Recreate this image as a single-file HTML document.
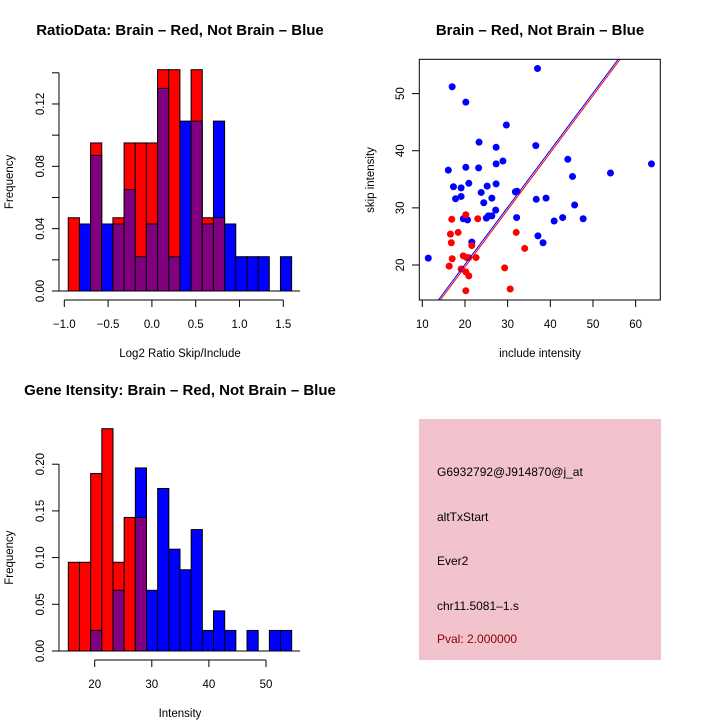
<!DOCTYPE html>
<html><head><meta charset="utf-8"><style>
body{margin:0;background:#fff;}
svg{display:block;font-family:"Liberation Sans",sans-serif;}
</style></head><body>
<svg id="c" width="720" height="720" xmlns="http://www.w3.org/2000/svg"></svg>
<script>
// Panel 1: ratio histogram
const ratioRed = [0.047,0,0.095,0,0.047,0.095,0.095,0.095,0.142,0.142,0,0.142,0.047,0.047,0,0,0,0,0,0];
const ratioBlue = [0,0.043,0.087,0.043,0.043,0.065,0.022,0.043,0.130,0.022,0.109,0.109,0.043,0.109,0.043,0.022,0.022,0.022,0,0.022];
const ratioStart = -0.955, ratioWidth = 0.1275;
const ratioXTicks = [-1.0,-0.5,0.0,0.5,1.0,1.5];
const ratioYTicks = [0,0.02,0.04,0.06,0.08,0.10,0.12,0.14];
const ratioYLabels = ["0.00","","0.04","","0.08","","0.12",""];
// Panel 3: intensity histogram
const intRed = [0.095,0.095,0.190,0.238,0.095,0.143,0.143,0,0,0,0,0,0,0,0,0,0,0,0,0];
const intBlue = [0,0,0.022,0,0.065,0,0.196,0.065,0.174,0.109,0.087,0.130,0.022,0.043,0.022,0,0.022,0,0.022,0.022];
const intStart = 15.38, intWidth = 1.956;
const intXTicks = [20,30,40,50];
const intYTicks = [0,0.05,0.10,0.15,0.20];
const intYLabels = ["0.00","0.05","0.10","0.15","0.20"];
// Panel 2: scatter
const blueX = [11.4,17.0,20.2,37.0,29.7,23.3,27.3,36.6,28.9,27.3,16.1,20.2,23.2,44.1,45.2,54.1,63.7,17.3,19.1,20.9,25.2,27.3,23.8,31.8,32.2,17.8,19.1,26.3,24.4,36.7,39.0,45.7,27.2,19.6,20.6,25.0,25.5,26.3,32.1,42.9,40.9,47.7,37.1,38.3,21.6];
const blueY = [21.2,51.2,48.5,54.4,44.5,41.5,40.6,40.9,38.2,37.7,36.6,37.1,37.0,38.5,35.5,36.1,37.7,33.7,33.5,34.3,33.8,34.2,32.7,32.8,32.9,31.6,32.0,31.7,30.9,31.5,31.7,30.5,29.6,28.1,27.9,28.2,28.6,28.6,28.3,28.3,27.7,28.1,25.1,23.9,24.0];
const redX = [20.2,16.9,23.0,16.6,18.4,32.0,16.8,21.6,34.0,17.0,19.6,20.4,20.9,22.6,16.3,19.1,20.2,20.9,29.3,20.2,30.6];
const redY = [28.8,28.0,28.1,25.4,25.7,25.7,23.9,23.4,22.9,21.1,21.6,21.3,21.3,21.3,19.8,19.3,18.8,18.1,19.5,15.5,15.8];
const fitBlue = [0.1,1.0], fitRed = [-0.35,1.0]; // intercept, slope
const scXTicks = [10,20,30,40,50,60];
const scYTicks = [20,30,40,50];

const svg = document.getElementById('c');
const NS = 'http://www.w3.org/2000/svg';
function mk(tag, attrs, parent){const e=document.createElementNS(NS,tag);for(const k in attrs)e.setAttribute(k,attrs[k]);(parent||svg).appendChild(e);return e;}
function txt(s,x,y,o,parent){const t=mk('text',Object.assign({x:x,y:y,'text-anchor':'middle','font-size':12},o||{}),parent);t.textContent=s;return t;}

function hist(name, red, blue, start, width, xt, yt, ylabs, xScale, yScale, base, axisY, ymaxTick, xlab, title, titleY, xAxisFrom, xAxisTo){
  const g = mk('g',{});
  
  
  const tt = txt(title,180,titleY,{'font-size':15,'font-weight':'bold'},g);
  
  
  for(let i=0;i<red.length;i++){
    const x0=xScale(start+i*width), x1=xScale(start+(i+1)*width);
    const r=red[i], b=blue[i], mx=Math.max(r,b), mn=Math.min(r,b);
    if(mx<=0) continue;
    const top = mk('rect',{x:x0,y:yScale(mx),width:x1-x0,height:base-yScale(mx),fill:r>=b?'#ff0000':'#0000ff',stroke:'#000','stroke-width':1},g);
    
    
    if(mn>0){
      const p = mk('rect',{x:x0,y:yScale(mn),width:x1-x0,height:base-yScale(mn),fill:'#800080',stroke:'#000','stroke-width':1},g);
      
      
    }
  }
  mk('line',{x1:52,y1:base,x2:300,y2:base,stroke:'#000'},g);
  const ya = mk('g',{},g);
  
  
  mk('line',{x1:59,y1:yScale(yt[0]),x2:59,y2:yScale(yt[yt.length-1]),stroke:'#000'},ya);
  yt.forEach((v,i)=>{const y=yScale(v);mk('line',{x1:52,y1:y,x2:59,y2:y,stroke:'#000'},ya);
    if(ylabs[i]) txt(ylabs[i],0,0,{transform:`translate(44,${y}) rotate(-90)`,'font-size':11.5},ya);});
  const xa = mk('g',{},g);
  
  
  mk('line',{x1:xScale(xAxisFrom),y1:axisY,x2:xScale(xAxisTo),y2:axisY,stroke:'#000'},xa);
  xt.forEach(v=>{const x=xScale(v);mk('line',{x1:x,y1:axisY,x2:x,y2:axisY+7,stroke:'#000'},xa);
    txt(String(Number.isInteger(v)&&Math.abs(v)>=10?v:v.toFixed(1)).replace('-','\u2212'),x,axisY+28,{'font-size':11.5},xa);});
  const xl = txt(xlab,180,axisY+57,{'font-size':11.5},g);
  
  
  const yl = txt('Frequency',0,0,{transform:`translate(13,${(base+yScale(ymaxTick))/2}) rotate(-90)`,'font-size':11.5},g);
  
  
}
hist('ratio-histogram', ratioRed, ratioBlue, ratioStart, ratioWidth, ratioXTicks, ratioYTicks, ratioYLabels,
  v=>64.3+(v+1)*87.6, v=>291-v/0.02*31.17, 291, 300, 0.14, 'Log2 Ratio Skip/Include',
  'RatioData: Brain \u2013 Red, Not Brain \u2013 Blue', 35, -1.0, 1.5);
hist('intensity-histogram', intRed, intBlue, intStart, intWidth, intXTicks, intYTicks, intYLabels,
  v=>94.7+(v-20)*5.71, v=>651-v/0.05*46.7, 651, 660, 0.20, 'Intensity',
  'Gene Itensity: Brain \u2013 Red, Not Brain \u2013 Blue', 395, 20, 50);

const sx = v=>422.3+(v-10)*4.267, sy = v=>265-(v-20)*5.713;
const sg = mk('g',{});


const st = txt('Brain \u2013 Red, Not Brain \u2013 Blue',540,35,{'font-size':15,'font-weight':'bold'},sg);


mk('defs',{},sg).innerHTML='<clipPath id="clp"><rect x="419.3" y="59.3" width="241" height="240.7"/></clipPath>';
const cg = mk('g',{'clip-path':'url(#clp)'},sg);
blueX.forEach((x,i)=>{const c=mk('circle',{cx:sx(x),cy:sy(blueY[i]),r:3.5,fill:'#0000ff'},cg);
  
  });
redX.forEach((x,i)=>{const c=mk('circle',{cx:sx(x),cy:sy(redY[i]),r:3.5,fill:'#ff0000'},cg);
  
  });
[[fitBlue,'#0000ff','blue-fit-line'],[fitRed,'#ff0000','red-fit-line']].forEach(([f,col,n])=>{
  const l=mk('line',{x1:sx(5),y1:sy(f[0]+f[1]*5),x2:sx(70),y2:sy(f[0]+f[1]*70),stroke:col,'stroke-width':1},cg);
  
  });
mk('rect',{x:419.3,y:59.3,width:241,height:240.7,fill:'none',stroke:'#000'},sg);
scXTicks.forEach(v=>{const x=sx(v);mk('line',{x1:x,y1:300,x2:x,y2:307,stroke:'#000'},sg);txt(String(v),x,328,{'font-size':11.5},sg);});
scYTicks.forEach(v=>{const y=sy(v);mk('line',{x1:412,y1:y,x2:419.3,y2:y,stroke:'#000'},sg);txt(String(v),0,0,{transform:`translate(404,${y}) rotate(-90)`,'font-size':11.5},sg);});
const sxl = txt('include intensity',540,357,{'font-size':11.5},sg);


const syl = txt('skip intensity',0,0,{transform:'translate(374,180) rotate(-90)','font-size':11.5},sg);



const ig = mk('g',{});


mk('rect',{x:419,y:419,width:242,height:241,fill:'#f2c3cd'},ig);
[['G6932792@J914870@j_at',476,'#000'],['altTxStart',521,'#000'],['Ever2',565,'#000'],['chr11.5081-1.s',610,'#000'],['Pval: 2.000000',643,'#8b0000']].forEach(([s,y,c])=>{
  const t=txt(s.replace('-','\u2013'),437,y,{'text-anchor':'start','font-size':12,fill:c},ig);
  
  
});
</script>
</body></html>
